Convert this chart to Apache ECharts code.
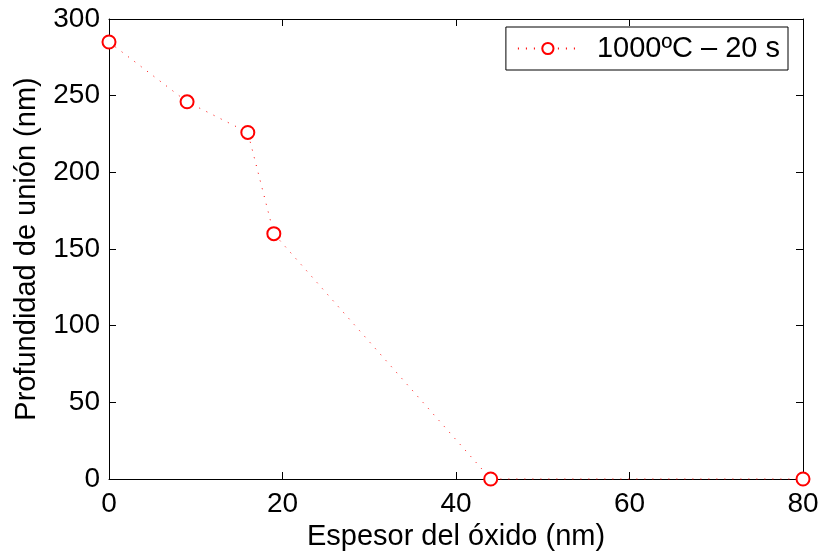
<!DOCTYPE html>
<html><head><meta charset="utf-8">
<script src="https://cdn.jsdelivr.net/npm/echarts@6/dist/echarts.min.js"></script>
<style>html,body{margin:0;padding:0;background:#fff}#c{width:821px;height:551px}</style>
</head><body><div id="c"></div>
<script>
const xValues = [0, 9, 16, 19, 44, 80];
const yValues = [285, 246, 226, 160, 0, 0];
const seriesName = '1000ºC – 20 s';
const xTicks = [0, 20, 40, 60, 80];
const yTicks = [0, 50, 100, 150, 200, 250, 300];

const font = 'Liberation Sans, Arial, Helvetica, sans-serif';
const chart = echarts.init(document.getElementById('c'), null, {renderer: 'canvas'});
const axisCommon = {
  axisLine: {show: true, onZero: false, lineStyle: {color: '#000', width: 1}},
  axisTick: {show: true, inside: true, length: 7, lineStyle: {color: '#000'}},
  splitLine: {show: false}
};
chart.setOption({
  animation: false,
  backgroundColor: '#fff',
  grid: {left: 109, right: 18, top: 19, bottom: 72, containLabel: false, outerBoundsMode: 'none'},
  legend: {
    data: [seriesName],
    right: 33, top: 27,
    itemWidth: 60, itemHeight: 14, itemGap: 10,
    padding: [7, 8, 7, 11],
    borderColor: '#000', borderWidth: 1, borderRadius: 0,
    backgroundColor: '#fff',
    textStyle: {fontFamily: font, fontSize: 29, color: '#000', padding: [0, 0, 0, 14]}
  },
  xAxis: [
    Object.assign({}, axisCommon, {
      type: 'value', min: xTicks[0], max: xTicks[xTicks.length-1], interval: 20,
      name: 'Espesor del óxido (nm)', nameLocation: 'middle', nameGap: 39,
      nameTextStyle: {fontFamily: font, fontSize: 29, color: '#000'},
      axisLabel: {fontFamily: font, fontSize: 28, color: '#000', margin: 11}
    }),
    Object.assign({}, axisCommon, {
      type: 'value', position: 'top', min: 0, max: 80, interval: 20,
      axisLabel: {show: false}
    })
  ],
  yAxis: [
    Object.assign({}, axisCommon, {
      type: 'value', min: yTicks[0], max: yTicks[yTicks.length-1], interval: 50,
      name: 'Profundidad de unión (nm)', nameLocation: 'middle', nameGap: 68,
      nameTextStyle: {fontFamily: font, fontSize: 29, color: '#000'},
      axisLabel: {fontFamily: font, fontSize: 28, color: '#000', margin: 9}
    }),
    Object.assign({}, axisCommon, {
      type: 'value', position: 'right', min: 0, max: 300, interval: 50,
      axisLabel: {show: false}
    })
  ],
  series: [{
    name: seriesName,
    type: 'line',
    data: xValues.map((x, i) => [x, yValues[i]]),
    symbol: 'circle', symbolSize: 13,
    itemStyle: {color: '#fff', borderColor: '#ff0000', borderWidth: 2},
    lineStyle: {color: '#ff0000', width: 1, type: [1, 7]},
    clip: false,
    z: 5
  }]
});
</script></body></html>
